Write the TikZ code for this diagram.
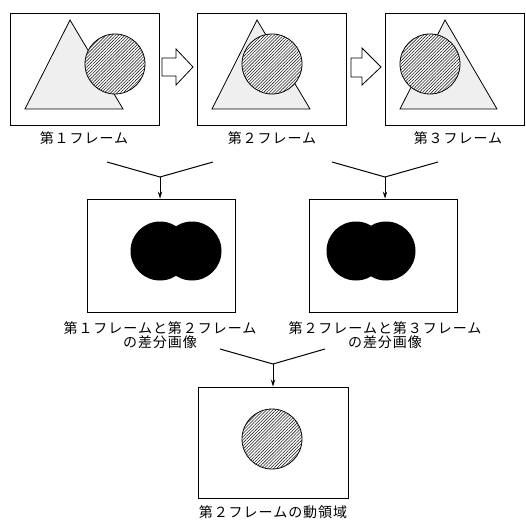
\documentclass[tikz,border=0pt]{standalone}
\usepackage{fontspec}
\newfontfamily\cjk[LetterSpace=7]{Noto Sans CJK JP}
\usetikzlibrary{patterns.meta,arrows.meta}
\tikzset{
  frame/.style={draw, line width=0.9bp, minimum width=#1, minimum height=112bp, inner sep=0pt},
  frame/.default=149bp,
  tri/.style={draw, line width=0.8bp, pattern={Dots[distance=2bp,radius=0.4bp]}, pattern color=black!75},
  disc/.style={draw, line width=0.8bp, fill=white, postaction={pattern={Lines[angle=45,distance=2.2bp,line width=0.6bp]}, pattern color=black!85}},
  blob/.style={fill=black},
  blockarrow/.style={draw, line width=0.8bp, fill=white},
  conn/.style={line width=1bp},
  down/.style={line width=1bp, -{Stealth[length=7bp,width=4.5bp]}},
  lbl/.style={font=\cjk\fontsize{14bp}{14.5bp}\selectfont, align=center, inner sep=0pt}
}
\begin{document}
\begin{tikzpicture}[x=1bp,y=-1bp]
\useasboundingbox (0,0) rectangle (526,521);
% top frames
\node[frame] (f1) at (84.5,69) {};
\node[frame] (f2) at (272,69) {};
\node[frame=139.5bp] (f3) at (454.75,69) {};
% frame 1 contents
\draw[tri] (70,20) -- (123,109) -- (25,109) -- cycle;
\draw[disc] (115,64) circle (30);
% frame 2 contents
\draw[tri] (257,20) -- (310,109) -- (212,109) -- cycle;
\draw[disc] (272,64) circle (30);
% frame 3 contents
\draw[tri] (445,20) -- (497,109) -- (400,109) -- cycle;
\draw[disc] (430,64) circle (30);
% block arrows
\draw[blockarrow] (162,58) -- (176,58) -- (176,49) -- (193,67) -- (176,85) -- (176,76) -- (162,76) -- cycle;
\draw[blockarrow] (351,58) -- (362,58) -- (362,48) -- (381,67) -- (362,85) -- (362,77) -- (351,77) -- cycle;
% top labels
\node[lbl] (t1) at (84,138) {第１フレーム};
\node[lbl] (t2) at (272,138) {第２フレーム};
\node[lbl] (t3) at (458,138) {第３フレーム};
% middle boxes
\node[frame=148bp, minimum height=113bp] (m1) at (161,255.5) {};
\node[frame=148bp, minimum height=113bp] (m2) at (383,255.5) {};
\fill[blob] (160,251) circle (29.5) (192,251) circle (29.5);
\fill[blob] (356,251) circle (29.5) (386,251) circle (29.5);
% connectors to middle
\coordinate (j1) at (160,177);
\coordinate (a1) at (107,162);
\coordinate (b1) at (213,162);
\draw[conn] (a1) -- (j1) -- (b1);
\draw[down] (j1) -- (j1 |- m1.north);
\coordinate (j2) at (385,177);
\coordinate (a2) at (332,162);
\coordinate (b2) at (438,162);
\draw[conn] (a2) -- (j2) -- (b2);
\draw[down] (j2) -- (j2 |- m2.north);
% middle labels
\node[lbl] (l1) at (160,335) {第１フレームと第２フレーム\\の差分画像};
\node[lbl] (l2) at (385,335) {第２フレームと第３フレーム\\の差分画像};
% bottom box
\node[frame=150bp, minimum height=111bp] (m3) at (273,442.5) {};
\draw[disc] (272,439) circle (30);
\coordinate (j3) at (273,364);
\coordinate (a3) at (220,349);
\coordinate (b3) at (325,349);
\draw[conn] (a3) -- (j3) -- (b3);
\draw[down] (j3) -- (j3 |- m3.north);
\node[lbl] (l3) at (273,512) {第２フレームの動領域};
\end{tikzpicture}
\end{document}
